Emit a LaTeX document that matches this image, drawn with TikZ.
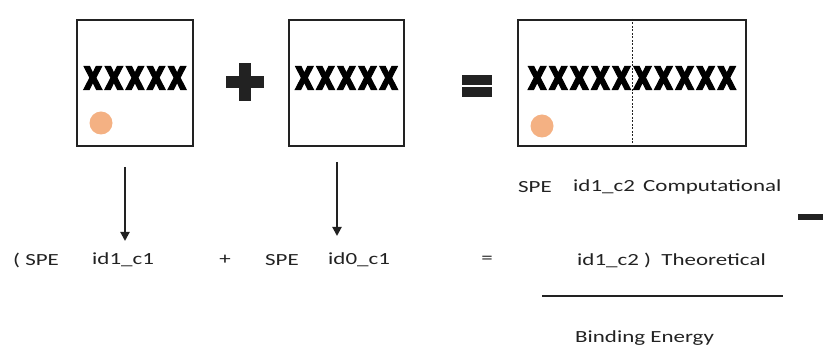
\documentclass[tikz,border=0pt]{standalone}
\usepackage{fontspec}
\usetikzlibrary{arrows.meta}
\setmainfont{Carlito}[FakeStretch=1.35]
\newfontfamily\xfont{DejaVu Sans}[FakeStretch=0.7,FakeBold=2.5,LetterSpace=5]
\definecolor{dot}{HTML}{F4B183}
\definecolor{ink}{HTML}{222222}
\begin{document}
\begin{tikzpicture}[x=1pt,y=-1pt,
  boxst/.style={draw=ink,line width=2.4pt},
  xs/.style={inner sep=0pt,font=\xfont\bfseries\fontsize{42}{42}\selectfont},
  lbl/.style={inner sep=0pt,anchor=west,text=ink,font=\fontsize{17}{17}\selectfont},
  dotst/.style={circle,fill=dot,minimum size=23pt,inner sep=0pt},
  arr/.style={draw=ink,line width=2pt,-{Triangle[length=9pt,width=9pt]}},
  op/.style={fill=ink}]
\useasboundingbox (0,0) rectangle (823,347);
% boxes
\node[boxst,minimum width=116pt,minimum height=126pt,inner sep=0pt] (b1) at (135,83) {};
\node[boxst,minimum width=115pt,minimum height=126pt,inner sep=0pt] (b2) at (346.5,83) {};
\node[boxst,minimum width=228pt,minimum height=126pt,inner sep=0pt] (b3) at (632,83) {};
\draw[ink,line width=0.9pt,dash pattern=on 2pt off 1.5pt] (b3.north) -- (b3.south);
% x rows
\node[xs] (x1) at (135,78) {xxxxx};
\node[xs] (x2) at (346.5,78) {xxxxx};
\node[xs] (x3) at (632,78) {xxxxxxxxxx};
% dots
\node[dotst] (d1) at (101,123) {};
\node[dotst] (d3) at (542,126) {};
% plus and equals
\fill[op] (239,63) rectangle (251,101);
\fill[op] (226,76) rectangle (264,88);
\fill[op] (462,75) rectangle (492,85);
\fill[op] (462,87) rectangle (492,97);
% arrows
\coordinate (a1s) at (125,167);
\coordinate (a1e) at (125,241);
\coordinate (a2s) at (337,162);
\coordinate (a2e) at (337,236);
\node[lbl] (t1) at (13,260) {( SPE};
\node[lbl] (t2) at (92,260) {id1\_c1};
\node[lbl,anchor=center] (t3) at (225,260) {+};
\node[lbl] (t4) at (265,260) {SPE};
\node[lbl] (t5) at (328,260) {id0\_c1};
\node[lbl,anchor=center] (t6) at (487,260) {=};
\node[lbl] (t7) at (577,260) {id1\_c2 )\ \ Theoretical};
\node[lbl] (u1) at (518,187) {SPE};
\node[lbl] (u2) at (573,187) {id1\_c2};
\node[lbl] (u3) at (643,187) {Computational};
\node[lbl] (be) at (575,338) {Binding Energy};
\draw[arr] (a1s) -- (a1e);
\draw[arr] (a2s) -- (a2e);
% fraction line and minus
\coordinate (fl) at (542,296);
\coordinate (fr) at (783,296);
\draw[ink,line width=2.6pt] (fl) -- (fr);
\fill[op] (798,214) rectangle (823,220);
\end{tikzpicture}
\end{document}
